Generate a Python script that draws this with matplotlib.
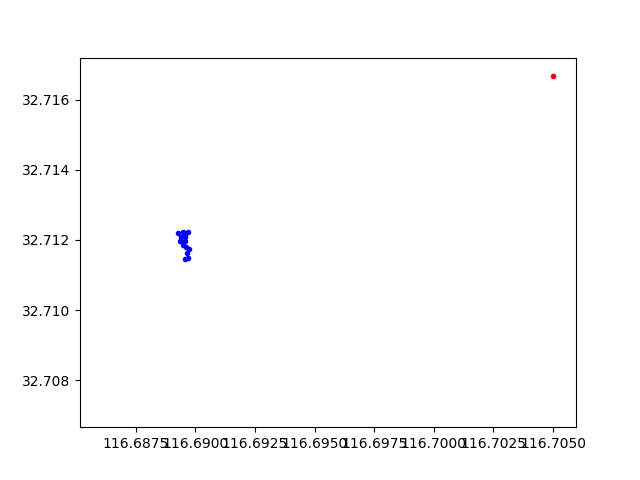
import matplotlib
matplotlib.use('Agg')
import matplotlib.pyplot as plt

# blue cluster of points
lon = [116.68925, 116.68946, 116.68969, 116.68955, 116.68940, 116.68955, 116.68936,
       116.68955, 116.68950, 116.68962, 116.68975, 116.68965, 116.68955, 116.68968]
lat = [32.71221, 32.71223, 32.71224, 32.71214, 32.71208, 32.71208, 32.71198,
       32.71198, 32.71186, 32.71181, 32.71173, 32.71162, 32.71145, 32.71148]

# red point
lon_r = [116.70500]
lat_r = [32.71667]

plt.figure(figsize=(6.4, 4.8), dpi=100)
plt.plot(lon, lat, 'b.')
plt.plot(lon_r, lat_r, 'r.')
plt.xlim(116.68516, 116.70596)
plt.ylim(32.70666, 32.7172)
plt.savefig('out.png')
